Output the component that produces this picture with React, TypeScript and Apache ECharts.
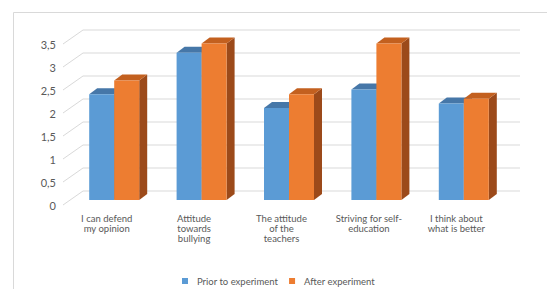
import React, { useEffect, useRef } from "react";
import * as echarts from "echarts";

const categories = [
  "I can defend\nmy opinion",
  "Attitude\ntowards\nbullying",
  "The attitude\nof the\nteachers",
  "Striving for self-\neducation",
  "I think about\nwhat is better",
];
const priorValues = [2.3, 3.2, 2.0, 2.4, 2.1];
const afterValues = [2.6, 3.4, 2.3, 3.4, 2.2];
const yTicks = [0, 0.5, 1, 1.5, 2, 2.5, 3, 3.5];
const seriesNames = ["Prior to experiment", "After experiment"];

const FONT = "Lato";
const TEXT = "#595959";
const GRIDC = "#d9d9d9";
const WALL_DX = 20;
const WALL_DY = -14;
const BAR_OX = 7.5;
const BAR_OY = -5;
const DEPTH_X = 8;
const DEPTH_Y = -6;
const BAR_FRAC = 25 / 87.4;

const palettes = [
  { front: "#5B9BD5", top: "#4677a8", side: "#3a6591" },
  { front: "#ED7D31", top: "#c3601f", side: "#9c4a1a" },
];

function barRender(seriesIdx: number) {
  return (params: any, api: any) => {
    const i = api.value(0);
    const v = api.value(1);
    const cTop = api.coord([i, v]);
    const cBase = api.coord([i, 0]);
    const bw = api.size([1, 0])[0];
    const w = bw * BAR_FRAC;
    const l = cTop[0] + (seriesIdx === 0 ? -w : 0) + BAR_OX;
    const t = cTop[1] + BAR_OY;
    const b = cBase[1] + BAR_OY;
    const p = palettes[seriesIdx];
    return {
      type: "group",
      children: [
        {
          type: "polygon",
          shape: {
            points: [
              [l + w, t],
              [l + w + DEPTH_X, t + DEPTH_Y],
              [l + w + DEPTH_X, b + DEPTH_Y],
              [l + w, b],
            ],
          },
          style: { fill: p.side },
        },
        {
          type: "polygon",
          shape: {
            points: [
              [l, t],
              [l + w, t],
              [l + w + DEPTH_X, t + DEPTH_Y],
              [l + DEPTH_X, t + DEPTH_Y],
            ],
          },
          style: { fill: p.top },
        },
        {
          type: "rect",
          shape: { x: l, y: t, width: w, height: b - t },
          style: { fill: p.front },
        },
      ],
    };
  };
}

function gridRender(params: any, api: any) {
  const v = api.value(1);
  const cs = params.coordSys;
  const y = api.coord([0, v])[1];
  const x0 = cs.x;
  return {
    type: "polyline",
    shape: {
      points: [
        [x0, y],
        [x0 + WALL_DX, y + WALL_DY],
        [x0 + WALL_DX + cs.width, y + WALL_DY],
      ],
    },
    style: { stroke: GRIDC, lineWidth: 1, fill: null },
  };
}

export default function App() {
  const ref = useRef<HTMLDivElement>(null);
  useEffect(() => {
    if (!ref.current) return;
    const chart = echarts.init(ref.current, undefined, { renderer: "svg" });
    chart.setOption({
      animation: false,
      backgroundColor: "#ffffff",
      textStyle: { fontFamily: FONT },
      graphic: [
        {
          type: "rect",
          shape: { x: 13.5, y: 12.5, width: 600, height: 400 },
          style: { fill: null, stroke: GRIDC, lineWidth: 1 },
          z: -10,
        },
      ],
      grid: { left: 63, right: 47, top: 44, bottom: 84 },
      legend: {
        data: seriesNames.map((n, k) => ({
          name: n,
          icon: "rect",
          itemStyle: { color: palettes[k].front },
        })),
        left: 177,
        top: 271,
        itemWidth: 6,
        itemHeight: 6,
        itemGap: 11,
        textStyle: { color: TEXT, fontSize: 9.5, fontFamily: FONT, padding: [0, 0, 0, 4] },
      },
      xAxis: {
        type: "category",
        data: categories,
        axisLine: { show: false },
        axisTick: { show: false },
        splitLine: { show: false },
        axisLabel: {
          interval: 0,
          color: TEXT,
          fontSize: 9.5,
          lineHeight: 10,
          margin: 8,
          fontFamily: FONT,
        },
      },
      yAxis: {
        type: "value",
        min: 0,
        max: 3.5,
        interval: 0.5,
        axisLine: { show: false },
        axisTick: { show: false },
        splitLine: { show: false },
        axisLabel: {
          color: TEXT,
          fontSize: 11,
          margin: 7,
          fontFamily: FONT,
          formatter: (v: number) => String(v).replace(".", ","),
        },
      },
      series: [
        {
          type: "custom",
          name: "grid",
          z: 1,
          silent: true,
          renderItem: gridRender,
          data: yTicks.map((v) => [0, v]),
          encode: { x: 0, y: 1 },
        },
        {
          type: "custom",
          name: seriesNames[0],
          z: 2,
          itemStyle: { color: palettes[0].front },
          renderItem: barRender(0),
          data: priorValues.map((v, i) => [i, v]),
          encode: { x: 0, y: 1 },
        },
        {
          type: "custom",
          name: seriesNames[1],
          z: 3,
          itemStyle: { color: palettes[1].front },
          renderItem: barRender(1),
          data: afterValues.map((v, i) => [i, v]),
          encode: { x: 0, y: 1 },
        },
      ],
    });
    return () => chart.dispose();
  }, []);
  return (
    <div
      ref={ref}
      style={{ position: "fixed", left: 0, top: 0, width: 547, height: 289 }}
    />
  );
}
